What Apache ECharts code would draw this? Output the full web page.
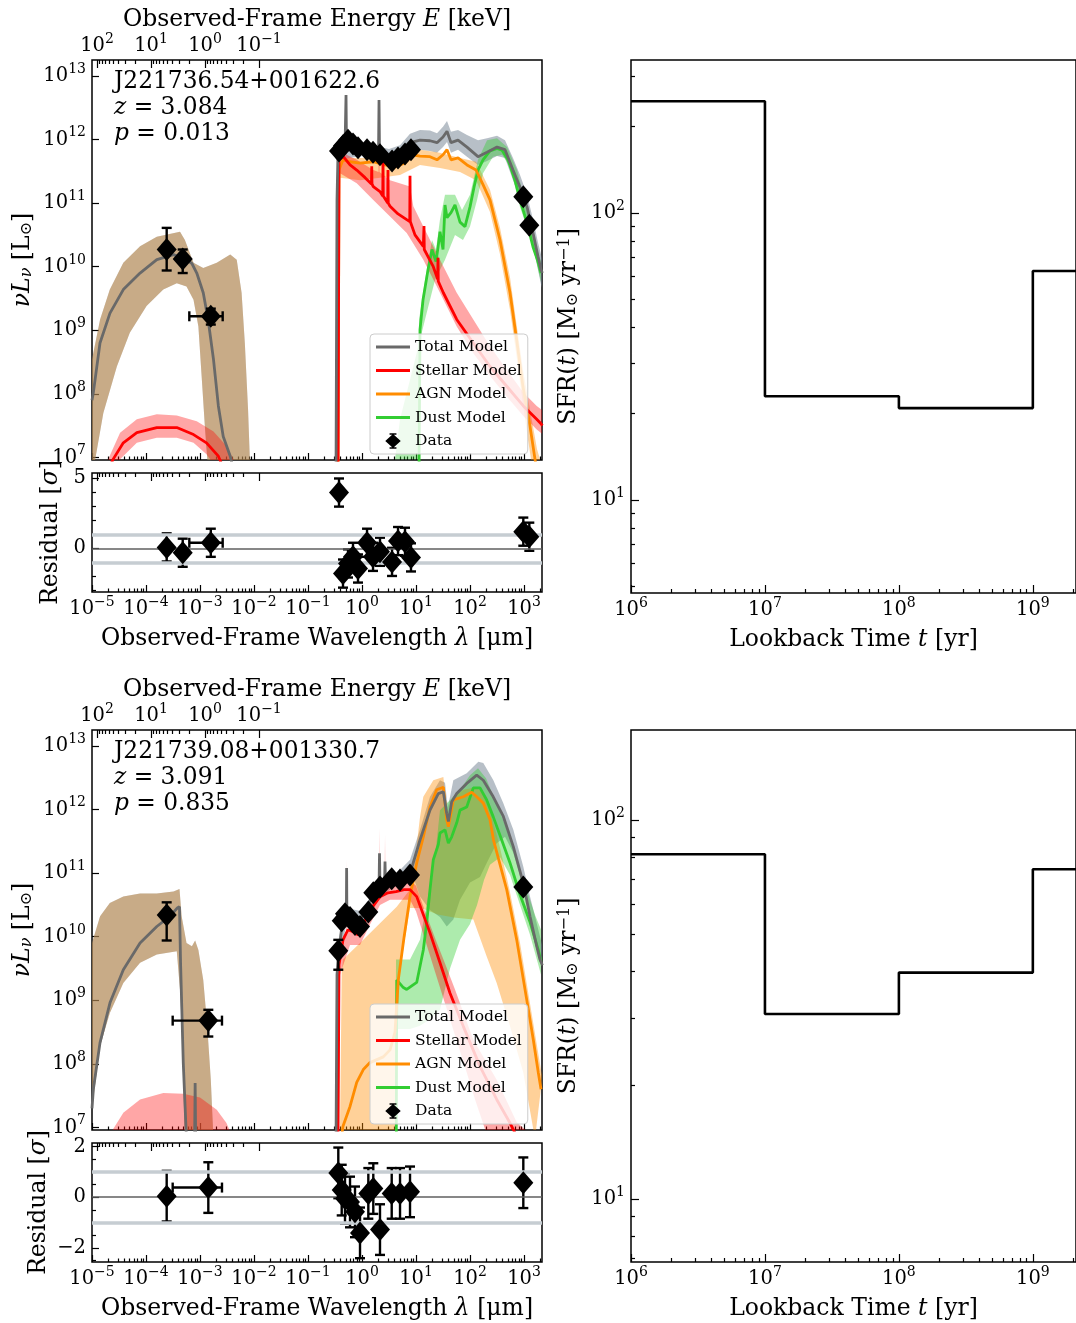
<!DOCTYPE html>
<html>
<head>
<meta charset="utf-8">
<script src="https://cdn.jsdelivr.net/npm/echarts@6/dist/echarts.min.js"></script>
<style>html,body{margin:0;padding:0;background:#fff}#main{width:1076px;height:1323px}</style>
</head>
<body>
<div id="main"></div>
<script>
// all SED values are log10(lambda / um) and log10(nuL_nu / L_sun)

// ---------- J221736.54+001622.6 ----------
var xrayTotLine1 = [[-5.0,7.9],[-4.975,8.02],[-4.852,8.80],[-4.667,9.27],[-4.42,9.64],[-4.11,9.90],[-3.80,10.11],[-3.49,10.19],[-3.25,10.11],[-3.15,10.05],[-3.06,9.90],[-2.94,9.59],[-2.85,9.17],[-2.75,8.54],[-2.66,7.81],[-2.57,7.33],[-2.44,7.02],[-2.38,6.8]];
var xrayTotUp1 = [[-5.0,8.54],[-4.85,9.17],[-4.67,9.64],[-4.42,10.06],[-4.11,10.32],[-3.80,10.47],[-3.37,10.55],[-3.28,10.42],[-3.12,10.06],[-2.94,9.98],[-2.69,10.06],[-2.44,10.19],[-2.32,10.11],[-2.23,9.59],[-2.17,8.80],[-2.11,7.75],[-2.07,6.8]];
var xrayTotLo1 = [[-5.0,6.8],[-4.94,6.97],[-4.79,7.70],[-4.54,8.43],[-4.30,8.96],[-3.99,9.38],[-3.68,9.64],[-3.43,9.74],[-3.25,9.69],[-3.12,9.48],[-3.03,9.06],[-2.97,8.28],[-2.91,7.49],[-2.85,6.8]];
var xrayStarLine1 = [[-4.70,6.8],[-4.61,6.97],[-4.42,7.23],[-4.17,7.39],[-3.80,7.47],[-3.43,7.47],[-3.12,7.36],[-2.88,7.23],[-2.66,7.02],[-2.55,6.8]];
var xrayStarUp1 = [[-4.75,6.8],[-4.70,6.97],[-4.48,7.39],[-4.17,7.60],[-3.80,7.68],[-3.43,7.66],[-3.06,7.57],[-2.75,7.41],[-2.51,7.18],[-2.38,6.97],[-2.33,6.8]];
var xrayStarLo1 = [[-4.52,6.8],[-4.48,6.97],[-4.17,7.23],[-3.80,7.31],[-3.43,7.31],[-3.12,7.23],[-2.88,7.05],[-2.81,6.97],[-2.78,6.8]];

var totLine1 = [[-0.481,6.8],[-0.463,11.05],[-0.444,11.80],[-0.389,11.84],[-0.315,11.87],[-0.305,11.87],[-0.296,12.70],[-0.287,11.87],[-0.185,11.96],[-0.074,11.90],[0.037,11.87],[0.148,11.82],[0.259,11.80],[0.306,11.80],[0.315,12.62],[0.324,11.79],[0.370,11.79],[0.481,11.73],[0.593,11.71],[0.704,11.79],[0.815,11.87],[0.926,11.96],[1.074,11.99],[1.259,11.98],[1.389,11.95],[1.500,12.04],[1.574,12.13],[1.648,11.95],[1.778,11.99],[1.944,11.88],[2.148,11.73],[2.315,11.80],[2.500,11.88],[2.648,11.84],[2.796,11.52],[2.926,11.25],[3.056,10.94],[3.167,10.53],[3.259,10.16],[3.315,9.95],[3.34,9.9]];
var totUp1 = [[-0.47,6.8],[-0.463,11.86],[-0.444,11.90],[0.0,11.95],[0.5,11.85],[0.704,11.91],[0.889,12.09],[1.074,12.15],[1.259,12.14],[1.389,12.10],[1.500,12.20],[1.574,12.29],[1.648,12.12],[1.778,12.15],[1.944,12.07],[2.148,11.99],[2.315,12.02],[2.500,12.06],[2.648,11.99],[2.796,11.71],[2.926,11.44],[3.056,11.13],[3.167,10.74],[3.259,10.38],[3.315,10.19],[3.34,10.1]];
var totLo1 = [[-0.46,6.8],[-0.444,11.68],[0.0,11.74],[0.5,11.62],[0.704,11.68],[0.889,11.80],[1.074,11.84],[1.259,11.82],[1.389,11.79],[1.500,11.88],[1.574,11.96],[1.648,11.79],[1.778,11.84],[1.944,11.73],[2.148,11.60],[2.315,11.66],[2.500,11.74],[2.648,11.71],[2.796,11.36],[2.926,11.08],[3.056,10.77],[3.167,10.34],[3.259,9.95],[3.315,9.72],[3.34,9.65]];
var starLine1 = [[-0.444,6.8],[-0.426,11.68],[-0.346,11.73],[-0.222,11.60],[-0.098,11.52],[0.056,11.40],[0.175,11.30],[0.180,11.58],[0.185,11.30],[0.209,11.26],[0.333,11.18],[0.384,11.11],[0.389,11.68],[0.394,11.11],[0.476,11.0],[0.481,11.52],[0.486,11.0],[0.519,10.95],[0.667,10.83],[0.828,10.74],[0.884,10.71],[0.889,11.43],[0.894,10.71],[0.981,10.50],[1.135,10.32],[1.143,10.29],[1.148,10.64],[1.153,10.27],[1.320,10.00],[1.402,9.80],[1.407,10.14],[1.412,9.77],[1.506,9.59],[1.754,9.17],[2.061,8.80],[2.370,8.43],[2.680,8.12],[2.987,7.81],[3.235,7.60],[3.315,7.53],[3.34,7.5]];
var starUp1 = [[-0.444,6.8],[-0.426,11.76],[-0.407,11.78],[-0.306,11.76],[-0.296,12.73],[-0.287,11.76],[-0.098,11.68],[0.209,11.52],[0.306,11.49],[0.315,12.65],[0.324,11.49],[0.519,11.36],[0.889,11.26],[0.950,10.95],[1.135,10.63],[1.444,10.11],[1.754,9.59],[2.061,9.17],[2.370,8.75],[2.680,8.38],[2.987,8.02],[3.235,7.81],[3.34,7.74]];
var starLo1 = [[-0.435,6.8],[-0.407,11.47],[-0.098,11.31],[0.209,11.05],[0.519,10.79],[0.828,10.53],[1.135,10.11],[1.444,9.59],[1.754,9.06],[2.061,8.64],[2.370,8.28],[2.680,7.96],[2.987,7.65],[3.235,7.44],[3.34,7.37]];
var agnLine1 = [[-0.444,6.8],[-0.426,11.52],[-0.352,11.68],[-0.222,11.65],[-0.037,11.63],[0.204,11.65],[0.426,11.60],[0.611,11.57],[0.796,11.63],[0.926,11.76],[1.074,11.74],[1.259,11.73],[1.389,11.68],[1.500,11.76],[1.574,11.84],[1.648,11.68],[1.778,11.71],[1.944,11.60],[2.111,11.52],[2.241,11.29],[2.370,11.05],[2.556,10.42],[2.741,9.59],[2.870,8.81],[2.981,8.11],[3.111,7.49],[3.204,6.97],[3.259,6.65]];
var agnUp1 = [[-0.444,6.8],[-0.407,11.71],[-0.037,11.71],[0.333,11.71],[0.704,11.71],[1.074,11.84],[1.444,11.79],[1.815,11.71],[2.111,11.65],[2.370,11.21],[2.556,10.61],[2.741,9.83],[2.870,9.04],[2.981,8.38],[3.111,7.75],[3.241,7.13],[3.296,6.97],[3.32,6.8]];
var agnLo1 = [[-0.435,6.8],[-0.407,11.40],[-0.037,11.36],[0.333,11.40],[0.704,11.44],[1.074,11.60],[1.444,11.55],[1.815,11.49],[2.111,11.36],[2.370,10.86],[2.556,10.19],[2.741,9.32],[2.870,8.54],[2.981,7.83],[3.074,7.28],[3.130,6.97],[3.15,6.8]];
var dustLine1 = [[1.056,6.8],[1.074,9.01],[1.130,9.48],[1.222,9.95],[1.296,10.27],[1.370,10.08],[1.407,10.30],[1.444,10.55],[1.500,10.27],[1.537,10.97],[1.574,10.77],[1.648,10.85],[1.722,10.97],[1.815,10.70],[1.907,10.63],[2.000,10.94],[2.074,11.25],[2.148,11.52],[2.241,11.68],[2.370,11.82],[2.500,11.86],[2.593,11.83],[2.704,11.68],[2.833,11.36],[2.926,11.05],[3.056,10.69],[3.167,10.31],[3.259,10.08],[3.315,9.90]];
var dustUp1 = [[1.037,6.97],[1.056,9.17],[1.167,9.79],[1.296,10.42],[1.370,10.27],[1.444,10.74],[1.537,11.13],[1.722,11.13],[1.852,10.89],[2.000,11.13],[2.148,11.68],[2.315,11.99],[2.500,12.02],[2.685,11.88],[2.870,11.52],[2.963,11.21],[3.074,10.85],[3.185,10.42],[3.315,10.08]];
var dustLo1 = [[0.611,6.97],[0.704,7.60],[0.889,8.22],[1.074,8.85],[1.167,9.17],[1.352,9.79],[1.537,10.11],[1.722,10.50],[1.870,10.42],[2.000,10.63],[2.130,11.05],[2.241,11.47],[2.426,11.73],[2.593,11.76],[2.741,11.57],[2.926,10.94],[3.111,10.47],[3.204,10.16],[3.315,9.76]];

var dataLam1 = [-3.617,-3.32,-2.80,-0.426,-0.352,-0.259,-0.167,-0.074,0.093,0.204,0.333,0.556,0.667,0.796,0.907,2.987,3.098];
var dataLum1 = [10.27,10.12,9.22,11.82,11.90,11.99,11.93,11.87,11.84,11.80,11.76,11.66,11.71,11.77,11.84,11.10,10.65];
var dataLumLo1 = [9.94,9.90,9.09,11.79,11.87,11.96,11.90,11.84,11.81,11.77,11.73,11.63,11.68,11.74,11.81,11.06,10.61];
var dataLumHi1 = [10.61,10.27,9.34,11.85,11.93,12.02,11.96,11.90,11.87,11.83,11.79,11.69,11.74,11.80,11.87,11.14,10.69];
var dataLamLo1 = [null,null,-3.198,null,null,null,null,null,null,null,null,null,null,null,null,null,null];
var dataLamHi1 = [null,null,-2.58,null,null,null,null,null,null,null,null,null,null,null,null,null,null];
var resid1 = [0.07,-0.31,0.40,3.97,-1.79,-1.07,-0.60,-1.43,0.40,-0.60,-0.24,-0.96,0.52,0.47,-0.64,1.19,0.83];

// ---------- J221739.08+001330.7 ----------
var xrayTotLine2 = [[-5.0,7.3],[-4.975,7.60],[-4.852,8.33],[-4.667,8.96],[-4.42,9.48],[-4.11,9.90],[-3.80,10.16],[-3.56,10.32],[-3.42,10.45],[-3.38,10.47],[-3.36,9.59],[-3.31,8.02],[-3.25,6.8],[-3.10,6.8],[-3.09,7.70],[-3.08,6.8]];
var xrayTotUp2 = [[-5.0,9.90],[-4.85,10.32],[-4.67,10.53],[-4.42,10.63],[-4.11,10.68],[-3.80,10.68],[-3.49,10.71],[-3.38,10.75],[-3.34,10.32],[-3.25,9.90],[-3.15,9.85],[-3.09,9.94],[-3.03,9.79],[-2.94,9.32],[-2.87,8.64],[-2.80,7.75],[-2.75,6.8]];
var xrayTotLo2 = [[-5.0,7.3],[-4.85,8.28],[-4.67,8.80],[-4.42,9.27],[-4.11,9.59],[-3.80,9.72],[-3.43,9.77],[-3.36,9.06],[-3.32,8.02],[-3.28,6.8]];
var xrayStarUp2 = [[-4.66,6.8],[-4.61,6.97],[-4.42,7.23],[-4.11,7.44],[-3.68,7.54],[-3.31,7.53],[-3.0,7.47],[-2.69,7.28],[-2.51,7.07],[-2.46,6.97],[-2.42,6.8]];
var xrayStarLo2 = [[-4.66,6.5],[-2.42,6.5]];

var totLine2 = [[-0.481,6.8],[-0.463,9.40],[-0.444,9.64],[-0.370,10.19],[-0.290,10.32],[-0.285,11.08],[-0.280,10.33],[-0.185,10.30],[-0.074,10.23],[0.019,10.34],[0.111,10.50],[0.204,10.66],[0.315,10.76],[0.324,11.31],[0.333,10.77],[0.417,10.81],[0.426,11.18],[0.435,10.82],[0.481,10.86],[0.630,10.89],[0.778,10.89],[0.889,10.94],[0.92,11.08],[1.074,11.52],[1.259,11.99],[1.413,12.25],[1.506,12.28],[1.568,11.94],[1.60,11.81],[1.66,12.12],[1.754,12.25],[1.94,12.41],[2.124,12.54],[2.246,12.46],[2.43,12.20],[2.617,11.89],[2.80,11.42],[2.987,10.84],[3.111,10.32],[3.235,9.85],[3.296,9.64],[3.34,9.55]];
var totUp2 = [[-0.47,6.8],[-0.463,9.85],[-0.3,10.45],[0.0,10.40],[0.3,10.85],[0.6,10.98],[0.704,11.05],[0.889,11.21],[1.074,11.68],[1.259,12.20],[1.444,12.46],[1.537,12.42],[1.587,12.04],[1.630,12.20],[1.691,12.46],[1.939,12.57],[2.154,12.75],[2.246,12.73],[2.432,12.46],[2.617,12.10],[2.802,11.68],[2.987,11.10],[3.111,10.63],[3.265,10.11],[3.34,9.85]];
var totLo2 = [[-0.46,6.8],[-0.444,9.55],[-0.3,10.15],[0.0,10.12],[0.3,10.62],[0.6,10.78],[0.704,10.81],[0.950,10.94],[1.074,10.63],[1.259,10.42],[1.444,10.31],[1.569,10.16],[1.691,10.27],[1.815,10.58],[2.000,10.85],[2.185,10.94],[2.309,11.16],[2.494,11.47],[2.648,11.57],[2.802,11.32],[2.987,10.78],[3.141,10.27],[3.265,9.79],[3.34,9.50]];
var starLine2 = [[-0.444,6.8],[-0.426,9.56],[-0.352,9.95],[-0.259,10.11],[-0.167,10.08],[-0.074,10.03],[0.019,10.19],[0.111,10.34],[0.222,10.50],[0.333,10.63],[0.481,10.69],[0.630,10.71],[0.778,10.74],[0.889,10.74],[1.013,10.63],[1.259,10.06],[1.444,9.59],[1.630,9.11],[1.876,8.59],[2.185,7.96],[2.494,7.44],[2.741,7.07],[2.9,6.8]];
var starUp2 = [[-0.444,6.8],[-0.426,9.67],[-0.315,10.03],[-0.293,10.03],[-0.283,11.21],[-0.274,10.03],[-0.222,10.19],[-0.037,10.14],[0.148,10.50],[0.315,10.69],[0.324,11.71],[0.333,10.69],[0.417,10.72],[0.426,11.60],[0.435,10.72],[0.519,10.83],[0.704,10.86],[0.889,10.89],[1.0,10.80],[1.167,10.40],[1.352,9.98],[1.537,9.58],[1.722,9.17],[2.061,8.38],[2.494,7.75],[2.865,7.08],[3.111,6.9],[3.34,6.85]];
var starLo2 = [[-0.435,6.8],[-0.407,9.40],[-0.222,9.87],[-0.037,9.87],[0.148,10.19],[0.333,10.50],[0.519,10.58],[0.889,10.58],[1.0,10.40],[1.167,9.95],[1.352,9.45],[1.537,8.95],[1.722,8.45],[1.907,7.95],[2.093,7.44],[2.278,6.97],[2.35,6.8],[3.34,6.8]];
var agnLine2 = [[-0.389,6.8],[-0.352,7.02],[-0.222,7.33],[-0.098,7.71],[0.024,7.91],[0.148,8.02],[0.394,8.11],[0.519,8.22],[0.611,8.50],[0.672,9.32],[0.78,10.0],[0.889,10.63],[1.013,11.16],[1.135,11.57],[1.259,12.04],[1.383,12.31],[1.506,12.35],[1.568,11.84],[1.599,11.73],[1.691,12.15],[1.876,12.20],[2.031,12.27],[2.124,12.20],[2.246,12.10],[2.370,11.84],[2.435,11.52],[2.68,10.74],[2.865,9.95],[3.05,9.01],[3.172,8.38],[3.265,7.86],[3.315,7.6]];
var agnUp2 = [[-0.41,6.8],[-0.376,9.43],[-0.352,9.64],[0.024,9.95],[0.333,10.21],[0.643,10.47],[0.889,10.74],[0.98,11.2],[1.074,11.88],[1.135,12.20],[1.320,12.46],[1.506,12.51],[1.599,11.84],[1.691,12.20],[1.876,12.31],[2.061,12.34],[2.185,12.31],[2.370,12.00],[2.556,11.40],[2.741,10.70],[2.926,9.90],[3.111,8.95],[3.315,7.9],[3.34,7.8]];
var agnLo2 = [[-0.41,6.8],[0.62,6.8],[0.66,8.6],[0.70,9.4],[0.78,9.9],[0.889,10.45],[1.1,10.45],[1.4,10.35],[1.7,10.30],[2.062,10.27],[2.309,9.69],[2.494,9.27],[2.741,8.59],[2.987,7.86],[3.172,6.97],[3.2,6.8]];
var dustLine2 = [[0.635,6.8],[0.643,9.32],[0.765,9.20],[0.828,9.17],[1.013,9.28],[1.135,9.79],[1.198,10.22],[1.259,10.74],[1.32,11.21],[1.413,11.45],[1.444,11.63],[1.537,11.68],[1.599,11.47],[1.661,11.57],[1.754,11.79],[1.815,11.99],[1.939,12.04],[2.061,12.34],[2.185,12.34],[2.309,12.15],[2.432,11.88],[2.587,11.52],[2.741,11.16],[2.926,10.66],[3.111,10.23],[3.265,9.79],[3.315,9.61]];
var dustUp2 = [[0.611,6.97],[0.630,9.64],[0.889,9.64],[1.074,9.95],[1.259,10.80],[1.370,11.40],[1.444,11.99],[1.630,12.15],[1.815,12.31],[2.000,12.54],[2.148,12.65],[2.296,12.49],[2.463,12.15],[2.648,11.76],[2.833,11.29],[3.019,10.81],[3.204,10.34],[3.315,10.11]];
var dustLo2 = [[0.611,6.97],[0.66,8.55],[0.889,8.55],[1.074,8.60],[1.259,8.70],[1.444,8.85],[1.630,9.50],[1.815,9.95],[2.000,10.20],[2.130,10.50],[2.259,10.89],[2.370,11.13],[2.556,11.25],[2.741,10.97],[2.926,10.50],[3.111,10.03],[3.315,9.40]];

var dataLam2 = [-3.617,-2.846,-0.439,-0.376,-0.315,-0.222,-0.130,-0.037,0.117,0.209,0.333,0.550,0.704,0.889,2.987];
var dataLum2 = [10.34,8.68,9.78,10.25,10.36,10.30,10.19,10.16,10.39,10.69,10.78,10.91,10.89,10.97,10.78];
var dataLumLo2 = [9.94,8.43,9.48,10.20,10.31,10.25,10.14,10.09,10.34,10.64,10.73,10.86,10.84,10.92,10.74];
var dataLumHi2 = [10.54,8.85,9.95,10.30,10.41,10.35,10.24,10.23,10.44,10.74,10.83,10.96,10.94,11.02,10.82];
var dataLamLo2 = [null,-3.506,null,null,null,null,null,null,null,null,null,null,null,null,null];
var dataLamHi2 = [null,-2.593,null,null,null,null,null,null,null,null,null,null,null,null,null];
var resid2 = [0.04,0.38,0.96,0.28,-0.05,-0.19,-0.58,-1.41,0.15,0.34,-1.28,0.15,0.15,0.21,0.57];

// ---------- star formation histories ----------
var sfhEdges = [1e6, 1e7, 1e8, 1e9, 2.1e9];   // yr
var sfr1 = [245, 23.0, 20.9, 62.8];            // Msun/yr
var sfr2 = [81.3, 30.8, 39.6, 74.2];

// ---------------------------------------------------------------
var FONT = 'DejaVu Serif', INK = '#000';
var ELOG = Math.log10(1.2398e-3);   // E[keV] = 1.2398e-3 / lambda[um]
var C_TOT = '#696969', C_STAR = '#ff0000', C_AGN = '#ff8c00', C_DUST = '#32cd32', C_TBAND = '#708090';
var LAM_MAX = 3.333;
var TICK_FS = 19.5, NAME_FS = 23.5;

var grids = [], xAxes = [], yAxes = [], series = [], graphics = [];

function supRich(size) {
  var s = Math.round(size * 0.7);
  return {
    b: {fontFamily: FONT, fontSize: size, color: INK, lineHeight: size + 8},
    s: {fontFamily: FONT, fontSize: s, color: INK, lineHeight: s, verticalAlign: 'top'}
  };
}
var NAME_RICH = {
  i: {fontFamily: FONT, fontSize: NAME_FS, fontStyle: 'italic', color: INK},
  sub: {fontFamily: FONT, fontSize: 16, color: INK, verticalAlign: 'bottom', lineHeight: 16},
  isub: {fontFamily: FONT, fontSize: 16, fontStyle: 'italic', color: INK, verticalAlign: 'bottom', lineHeight: 16},
  sup: {fontFamily: FONT, fontSize: 16, color: INK, verticalAlign: 'top', lineHeight: 16}
};
function expText(e) { return e < 0 ? '\u2212' + (-e) : String(e); }
function expLabel(v) { return '{b|10}{s|' + expText(Math.round(v)) + '}'; }
function energyLabel(v) { return '{b|10}{s|' + expText(Math.round(ELOG - v)) + '}'; }
function numLabel(v) { return v < 0 ? '\u2212' + (-v) : String(v); }
function range(a, b, s) { var o = []; for (var v = a; v <= b + 1e-9; v += (s || 1)) o.push(+v.toFixed(6)); return o; }
function minorLogs(lo, hi) {
  var o = [];
  for (var n = Math.floor(lo) - 1; n <= Math.ceil(hi); n++)
    for (var k = 2; k <= 9; k++) { var v = n + Math.log10(k); if (v > lo && v < hi) o.push(v); }
  return o;
}
var energyMajor = [2, 1, 0, -1].map(function (m) { return ELOG - m; });
var energyMinor = [];
[1, 0, -1].forEach(function (m) { for (var k = 2; k <= 9; k++) energyMinor.push(ELOG - m - Math.log10(k)); });

function addAxis(list, o) {
  var ax = {
    type: 'value', gridIndex: o.grid, min: o.min, max: o.max, position: o.pos, silent: true,
    axisLine: {show: false, onZero: false}, splitLine: {show: false},
    axisTick: {show: true, inside: true, length: o.len, customValues: o.ticks, lineStyle: {color: INK, width: 1.2}},
    axisLabel: {show: !!o.fmt, customValues: o.ticks, formatter: o.fmt, margin: o.margin == null ? 6 : o.margin,
      color: INK, fontFamily: FONT, fontSize: TICK_FS, rich: supRich(TICK_FS)}
  };
  if (o.name) {
    ax.name = o.name; ax.nameLocation = 'middle'; ax.nameGap = o.gap; ax.nameRotate = o.rot || 0;
    ax.nameTextStyle = {fontFamily: FONT, fontSize: NAME_FS, color: INK, rich: NAME_RICH};
  }
  list.push(ax);
  return list.length - 1;
}

function lineS(name, data, color, xi, yi, z) {
  return {type: 'line', name: name, data: data, xAxisIndex: xi, yAxisIndex: yi, color: color,
    showSymbol: false, symbol: 'none', lineStyle: {color: color, width: 2.8}, z: z, clip: true, silent: true};
}
function bandS(upper, lower, color, opacity, xi, yi) {
  var pts = upper.concat(lower.slice().reverse());
  return {type: 'custom', name: 'band', xAxisIndex: xi, yAxisIndex: yi, z: 1, silent: true, clip: true,
    data: [pts[0]],
    renderItem: function (params, api) {
      var cs = params.coordSys;
      return {type: 'polygon', shape: {points: pts.map(function (p) { return api.coord(p); })},
        style: {fill: color, opacity: opacity},
        clipPath: {type: 'rect', shape: {x: cs.x, y: cs.y, width: cs.width, height: cs.height}}};
    }};
}
function errS(rows, xi, yi) {
  return {type: 'custom', name: 'errorbars', xAxisIndex: xi, yAxisIndex: yi, z: 4, silent: true, clip: true,
    data: rows, encode: {x: 0, y: 1},
    renderItem: function (params, api) {
      var x = api.value(0), y = api.value(1);
      var c = api.coord([x, y]);
      var lo = api.coord([x, api.value(2)]), hi = api.coord([x, api.value(3)]);
      var kids = [], cap = 5;
      function seg(x1, y1, x2, y2) { kids.push({type: 'line', shape: {x1: x1, y1: y1, x2: x2, y2: y2}, style: {stroke: INK, lineWidth: 2.4}}); }
      seg(c[0], lo[1], c[0], hi[1]);
      seg(c[0] - cap, lo[1], c[0] + cap, lo[1]);
      seg(c[0] - cap, hi[1], c[0] + cap, hi[1]);
      if (api.value(4) !== api.value(5)) {
        var l = api.coord([api.value(4), y]), h = api.coord([api.value(5), y]);
        seg(l[0], c[1], h[0], c[1]);
        seg(l[0], c[1] - cap, l[0], c[1] + cap);
        seg(h[0], c[1] - cap, h[0], c[1] + cap);
      }
      return {type: 'group', children: kids};
    }};
}
function dotS(data, xi, yi) {
  return {type: 'scatter', name: 'Data', data: data, xAxisIndex: xi, yAxisIndex: yi, symbol: 'diamond',
    symbolSize: [20, 23], itemStyle: {color: INK, opacity: 1}, color: INK, z: 5, silent: true};
}
function stepPoints(edges, vals) {
  var p = [];
  vals.forEach(function (v, i) { p.push([Math.log10(edges[i]), Math.log10(v)], [Math.log10(edges[i + 1]), Math.log10(v)]); });
  return p;
}

function buildRow(top, d) {
  var border = {show: true, borderColor: INK, borderWidth: 1.5, backgroundColor: 'rgba(0,0,0,0)'};
  var fMax = Math.log10(sfhEdges[sfhEdges.length - 1]);
  var gS = grids.push(Object.assign({left: 92, top: top, width: 450, height: 400}, border)) - 1;
  var gR = grids.push(Object.assign({left: 92, top: top + 413, width: 450, height: 119}, border)) - 1;
  var gF = grids.push(Object.assign({left: 631, top: top, width: (fMax - 6) * 136, height: d.sfhH}, border)) - 1;

  // SED panel axes
  var xS = addAxis(xAxes, {grid: gS, min: -5, max: LAM_MAX, pos: 'bottom', len: 7, ticks: range(-5, 3)});
  addAxis(xAxes, {grid: gS, min: -5, max: LAM_MAX, pos: 'bottom', len: 3.5, ticks: minorLogs(-5, LAM_MAX)});
  addAxis(xAxes, {grid: gS, min: -5, max: LAM_MAX, pos: 'top', len: 8, ticks: energyMajor, fmt: energyLabel, margin: 0,
    name: 'Observed-Frame Energy {i|E} [keV]', gap: 28});
  addAxis(xAxes, {grid: gS, min: -5, max: LAM_MAX, pos: 'top', len: 4, ticks: energyMinor});
  var yS = addAxis(yAxes, {grid: gS, min: 6.96, max: 13.25, pos: 'left', len: 7, ticks: range(7, 13), fmt: expLabel,
    name: '{i|\u03bdL}{isub|\u03bd} [L{sub|\u2299}]', gap: 57, rot: 90});

  // residual axes
  var xR = addAxis(xAxes, {grid: gR, min: -5, max: LAM_MAX, pos: 'bottom', len: 7, ticks: range(-5, 3), fmt: expLabel, margin: 3,
    name: 'Observed-Frame Wavelength {i|\u03bb} [\u03bcm]', gap: 35});
  addAxis(xAxes, {grid: gR, min: -5, max: LAM_MAX, pos: 'bottom', len: 3.5, ticks: minorLogs(-5, LAM_MAX)});
  addAxis(xAxes, {grid: gR, min: -5, max: LAM_MAX, pos: 'top', len: 8, ticks: energyMajor});
  addAxis(xAxes, {grid: gR, min: -5, max: LAM_MAX, pos: 'top', len: 4, ticks: energyMinor});
  var yR = addAxis(yAxes, {grid: gR, min: d.resMin, max: d.resMax, pos: 'left', len: 7, ticks: d.resMajor, fmt: numLabel,
    name: 'Residual [{i|\u03c3}]', gap: d.resGap, rot: 90});
  addAxis(yAxes, {grid: gR, min: d.resMin, max: d.resMax, pos: 'left', len: 4, ticks: d.resMinor});

  // SFH axes
  var xF = addAxis(xAxes, {grid: gF, min: 6, max: fMax, pos: 'bottom', len: 8, ticks: [6, 7, 8, 9], fmt: expLabel, margin: 3,
    name: 'Lookback Time {i|t} [yr]', gap: 35});
  addAxis(xAxes, {grid: gF, min: 6, max: fMax, pos: 'bottom', len: 4, ticks: minorLogs(6, fMax)});
  var yF = addAxis(yAxes, {grid: gF, min: d.sfhMin, max: d.sfhMax, pos: 'left', len: 8, ticks: [1, 2], fmt: expLabel,
    name: 'SFR({i|t}) [M{sub|\u2299} yr{sup|\u22121}]', gap: 50, rot: 90});
  addAxis(yAxes, {grid: gF, min: d.sfhMin, max: d.sfhMax, pos: 'left', len: 4, ticks: minorLogs(d.sfhMin, d.sfhMax)});

  // SED bands (X-ray: total and AGN share the same envelope)
  series.push(bandS(d.xTotUp, d.xTotLo, C_TBAND, 0.55, xS, yS));
  series.push(bandS(d.xTotUp, d.xTotLo, C_AGN, 0.3, xS, yS));
  series.push(bandS(d.xStarUp, d.xStarLo, C_STAR, 0.35, xS, yS));
  series.push(bandS(d.totUp, d.totLo, C_TBAND, 0.5, xS, yS));
  series.push(bandS(d.agnUp, d.agnLo, C_AGN, 0.4, xS, yS));
  series.push(bandS(d.dustUp, d.dustLo, C_DUST, 0.4, xS, yS));
  series.push(bandS(d.starUp, d.starLo, C_STAR, 0.35, xS, yS));
  // SED lines
  series.push(lineS('Dust Model', d.dustLine, C_DUST, xS, yS, 2));
  series.push(lineS('AGN Model', d.agnLine, C_AGN, xS, yS, 2));
  series.push(lineS('Stellar Model', d.starLine, C_STAR, xS, yS, 3));
  if (d.xStarLine) series.push(lineS('Stellar Model', d.xStarLine, C_STAR, xS, yS, 3));
  series.push(lineS('Total Model', d.xTotLine, C_TOT, xS, yS, 3));
  series.push(lineS('Total Model', d.totLine, C_TOT, xS, yS, 3));
  // data
  var rows = [], pts = [], rrows = [], rpts = [];
  d.lam.forEach(function (x, i) {
    var xl = d.lamLo[i] == null ? x : d.lamLo[i], xh = d.lamHi[i] == null ? x : d.lamHi[i];
    rows.push([x, d.lum[i], d.lumLo[i], d.lumHi[i], xl, xh]);
    pts.push([x, d.lum[i]]);
    rrows.push([x, d.res[i], d.res[i] - 1, d.res[i] + 1, xl, xh]);
    rpts.push([x, d.res[i]]);
  });
  series.push(errS(rows, xS, yS));
  series.push(dotS(pts, xS, yS));

  // residual panel
  var ref = {color: '#c6cdd2', width: 3.5, type: 'solid'};
  series.push({type: 'line', name: 'ref', xAxisIndex: xR, yAxisIndex: yR, data: [[-5, 0]], z: 1, silent: true,
    symbol: 'none', showSymbol: false, lineStyle: {opacity: 0},
    markLine: {silent: true, symbol: 'none', label: {show: false}, animation: false,
      data: [{yAxis: 1, lineStyle: ref}, {yAxis: -1, lineStyle: ref},
             {yAxis: 0, lineStyle: {color: '#5f5f5f', width: 1.5, type: 'solid'}}]}});
  series.push(errS(rrows, xR, yR));
  series.push(dotS(rpts, xR, yR));

  // SFH
  series.push({type: 'line', name: 'SFH', xAxisIndex: xF, yAxisIndex: yF, data: stepPoints(sfhEdges, d.sfr),
    showSymbol: false, symbol: 'none', lineStyle: {color: INK, width: 2.6}, color: INK, clip: true, silent: true});

  // annotation
  var t = {fontFamily: FONT, fontSize: 23.3, fill: INK, verticalAlign: 'middle'};
  var it = {i: {fontFamily: FONT, fontSize: 23.3, fontStyle: 'italic', fill: INK}};
  graphics.push({type: 'text', x: 114, y: top + 22, z: 20, style: Object.assign({text: d.id}, t)});
  graphics.push({type: 'text', x: 114, y: top + 48, z: 20, style: Object.assign({text: '{i|z} = ' + d.z, rich: it}, t)});
  graphics.push({type: 'text', x: 114, y: top + 74, z: 20, style: Object.assign({text: '{i|p} = ' + d.p, rich: it}, t)});
}

buildRow(60, {
  id: 'J221736.54+001622.6', z: '3.084', p: '0.013',
  xTotLine: xrayTotLine1, xTotUp: xrayTotUp1, xTotLo: xrayTotLo1,
  xStarLine: xrayStarLine1, xStarUp: xrayStarUp1, xStarLo: xrayStarLo1,
  totLine: totLine1, totUp: totUp1, totLo: totLo1, starLine: starLine1, starUp: starUp1, starLo: starLo1,
  agnLine: agnLine1, agnUp: agnUp1, agnLo: agnLo1, dustLine: dustLine1, dustUp: dustUp1, dustLo: dustLo1,
  lam: dataLam1, lum: dataLum1, lumLo: dataLumLo1, lumHi: dataLumHi1, lamLo: dataLamLo1, lamHi: dataLamHi1, res: resid1,
  resMin: -3.1, resMax: 5.36, resMajor: [0, 5], resMinor: [-3, -2, -1, 1, 2, 3, 4], resGap: 29,
  sfr: sfr1, sfhMin: 0.676, sfhMax: 2.533, sfhH: 533
});
buildRow(730, {
  id: 'J221739.08+001330.7', z: '3.091', p: '0.835',
  xTotLine: xrayTotLine2, xTotUp: xrayTotUp2, xTotLo: xrayTotLo2,
  xStarLine: null, xStarUp: xrayStarUp2, xStarLo: xrayStarLo2,
  totLine: totLine2, totUp: totUp2, totLo: totLo2, starLine: starLine2, starUp: starUp2, starLo: starLo2,
  agnLine: agnLine2, agnUp: agnUp2, agnLo: agnLo2, dustLine: dustLine2, dustUp: dustUp2, dustLo: dustLo2,
  lam: dataLam2, lum: dataLum2, lumLo: dataLumLo2, lumHi: dataLumHi2, lamLo: dataLamLo2, lamHi: dataLamHi2, res: resid2,
  resMin: -2.56, resMax: 2.14, resMajor: [-2, 0, 2], resMinor: [-2.5, -1.5, -1, -0.5, 0.5, 1, 1.5], resGap: 41,
  sfr: sfr2, sfhMin: 0.834, sfhMax: 2.238, sfhH: 532
});

var LINE_ICON = 'path://M0,0 L34,0 L34,2.9 L0,2.9 Z';
var DATA_ICON = 'path://M5,0 L13,0 L13,1.6 L5,1.6 Z M5,16.4 L13,16.4 L13,18 L5,18 Z M8.2,0 L9.8,0 L9.8,18 L8.2,18 Z M9,1 L18,9 L9,17 L0,9 Z';
function legendAt(top) {
  return {
    left: 370, top: top, orient: 'vertical', itemGap: 7.5, itemWidth: 34, itemHeight: 15.5, padding: [5, 6, 5, 6],
    backgroundColor: 'rgba(255,255,255,0.8)', borderColor: '#cccccc', borderWidth: 1, borderRadius: 4,
    textStyle: {fontFamily: FONT, fontSize: 15.5, color: INK}, selectedMode: false, z: 10,
    itemStyle: {borderWidth: 0}, lineStyle: {width: 0},
    data: [
      {name: 'Total Model', icon: LINE_ICON, itemStyle: {color: C_TOT}},
      {name: 'Stellar Model', icon: LINE_ICON, itemStyle: {color: C_STAR}},
      {name: 'AGN Model', icon: LINE_ICON, itemStyle: {color: C_AGN}},
      {name: 'Dust Model', icon: LINE_ICON, itemStyle: {color: C_DUST}},
      {name: 'Data', icon: DATA_ICON, itemStyle: {color: INK, opacity: 1}}
    ]
  };
}

var chart = echarts.init(document.getElementById('main'));
chart.setOption({
  animation: false,
  backgroundColor: '#fff',
  grid: grids,
  xAxis: xAxes,
  yAxis: yAxes,
  legend: [legendAt(334), legendAt(1004)],
  graphic: {elements: graphics},
  series: series
});
</script>
</body>
</html>
